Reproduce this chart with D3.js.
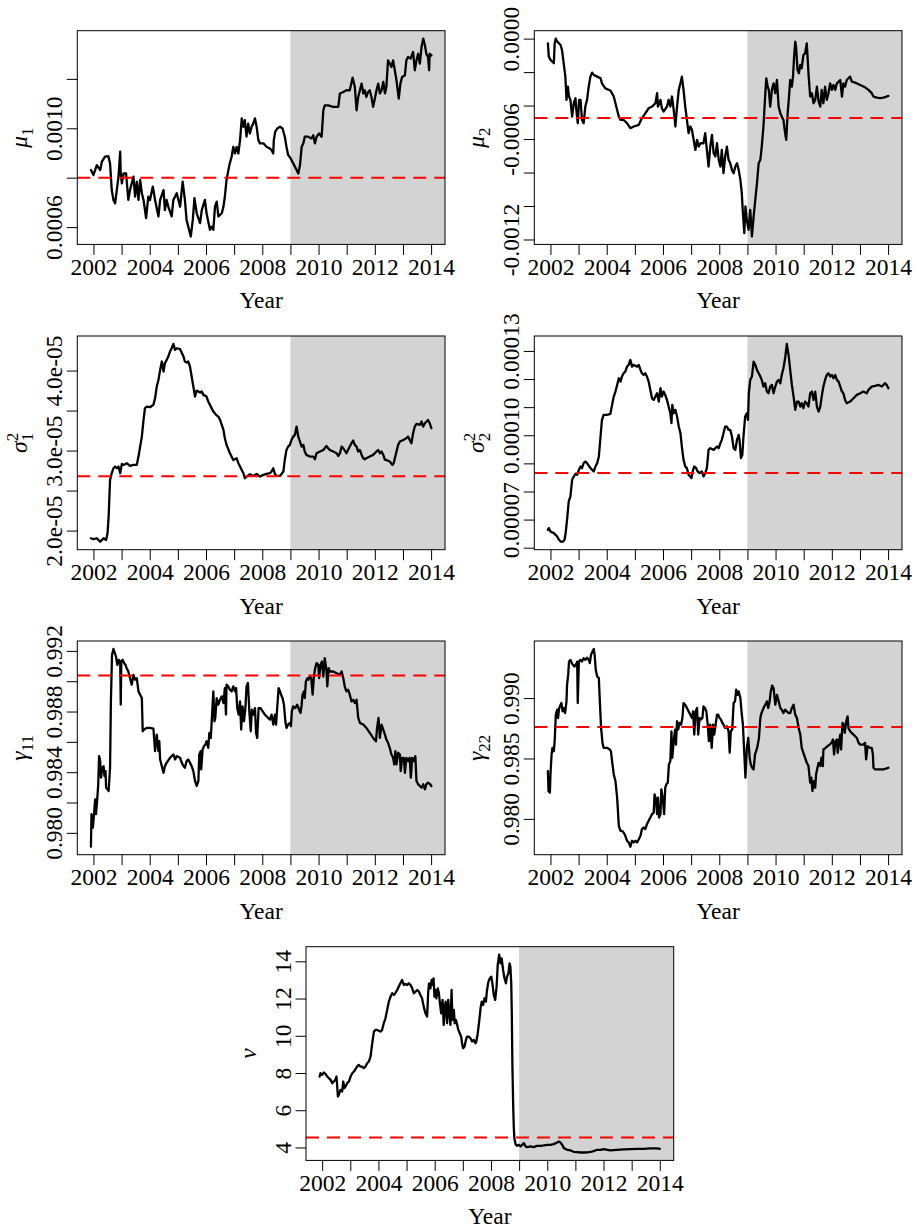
<!DOCTYPE html>
<html>
<head>
<meta charset="utf-8">
<script src="https://cdn.jsdelivr.net/npm/d3@7"></script>
<style>
  body { margin: 0; background: #fff; }
  svg text { font-family: "Liberation Serif", "Times New Roman", serif; fill: #000; }
</style>
</head>
<body>
<svg id="chart" width="914" height="1230"></svg>
<script>
// Rolling-window parameter estimates, [year, estimate] pairs.
const mu1 = [[2001.91,0.000831],[2002.00,0.000811],[2002.12,0.000851],[2002.24,0.000831],[2002.30,0.000865],[2002.41,0.000885],[2002.53,0.000887],[2002.59,0.000858],[2002.65,0.000750],[2002.71,0.000710],[2002.77,0.000696],[2002.83,0.000750],[2002.89,0.000804],[2002.95,0.000905],[2002.97,0.000817],[2003.01,0.000777],[2003.07,0.000817],[2003.16,0.000817],[2003.24,0.000710],[2003.30,0.000750],[2003.42,0.000804],[2003.48,0.000723],[2003.54,0.000784],[2003.60,0.000710],[2003.66,0.000791],[2003.72,0.000737],[2003.78,0.000710],[2003.87,0.000636],[2003.95,0.000723],[2004.01,0.000710],[2004.11,0.000764],[2004.19,0.000710],[2004.31,0.000643],[2004.37,0.000710],[2004.49,0.000750],[2004.54,0.000669],[2004.60,0.000710],[2004.66,0.000683],[2004.78,0.000643],[2004.84,0.000710],[2004.96,0.000737],[2005.08,0.000683],[2005.17,0.000784],[2005.25,0.000710],[2005.31,0.000629],[2005.37,0.000602],[2005.46,0.000562],[2005.53,0.000629],[2005.59,0.000717],[2005.67,0.000656],[2005.79,0.000616],[2005.85,0.000669],[2005.96,0.000710],[2006.02,0.000656],[2006.14,0.000589],[2006.20,0.000602],[2006.26,0.000589],[2006.32,0.000683],[2006.38,0.000703],[2006.44,0.000643],[2006.56,0.000656],[2006.62,0.000683],[2006.67,0.000723],[2006.73,0.000791],[2006.83,0.000851],[2006.91,0.000885],[2006.97,0.000925],[2007.03,0.000898],[2007.09,0.000925],[2007.15,0.000898],[2007.21,0.000952],[2007.27,0.001040],[2007.33,0.001006],[2007.38,0.001033],[2007.44,0.000966],[2007.50,0.001019],[2007.56,0.000979],[2007.62,0.001006],[2007.68,0.001019],[2007.74,0.001040],[2007.80,0.001006],[2007.86,0.000952],[2007.92,0.000939],[2008.04,0.000939],[2008.15,0.000925],[2008.27,0.000918],[2008.33,0.000912],[2008.39,0.000898],[2008.41,0.000952],[2008.46,0.000986],[2008.53,0.000999],[2008.63,0.001006],[2008.72,0.000999],[2008.80,0.000966],[2008.86,0.000925],[2008.92,0.000892],[2009.01,0.000878],[2009.10,0.000858],[2009.22,0.000831],[2009.28,0.000817],[2009.34,0.000851],[2009.40,0.000925],[2009.46,0.000939],[2009.51,0.000966],[2009.63,0.000966],[2009.75,0.000959],[2009.81,0.000972],[2009.87,0.000939],[2009.93,0.000966],[2010.02,0.000979],[2010.11,0.000966],[2010.17,0.001073],[2010.22,0.001093],[2010.34,0.001093],[2010.52,0.001087],[2010.70,0.001087],[2010.76,0.001141],[2010.88,0.001147],[2010.99,0.001154],[2011.11,0.001154],[2011.21,0.001205],[2011.29,0.001167],[2011.35,0.001073],[2011.41,0.001127],[2011.47,0.001154],[2011.53,0.001181],[2011.59,0.001141],[2011.64,0.001154],[2011.70,0.001127],[2011.76,0.001147],[2011.82,0.001154],[2011.88,0.001127],[2011.94,0.001087],[2012.00,0.001120],[2012.06,0.001154],[2012.12,0.001181],[2012.18,0.001141],[2012.24,0.001154],[2012.30,0.001188],[2012.36,0.001141],[2012.41,0.001167],[2012.47,0.001275],[2012.53,0.001262],[2012.59,0.001248],[2012.65,0.001275],[2012.71,0.001235],[2012.77,0.001194],[2012.85,0.001120],[2012.91,0.001181],[2012.97,0.001208],[2013.07,0.001215],[2013.12,0.001275],[2013.18,0.001289],[2013.27,0.001282],[2013.36,0.001309],[2013.42,0.001235],[2013.48,0.001275],[2013.54,0.001302],[2013.60,0.001262],[2013.66,0.001329],[2013.72,0.001363],[2013.78,0.001336],[2013.83,0.001302],[2013.89,0.001289],[2013.93,0.001235],[2013.95,0.001302],[2014.01,0.001295]];

const mu2 = [[2001.91,-0.000028],[2001.94,-0.000107],[2002.00,-0.000127],[2002.06,-0.000137],[2002.12,-0.000147],[2002.15,-0.000028],[2002.19,0.0],[2002.24,-0.000018],[2002.30,-0.000028],[2002.36,-0.000038],[2002.41,-0.000068],[2002.47,-0.000147],[2002.53,-0.000227],[2002.57,-0.000366],[2002.62,-0.000287],[2002.66,-0.000346],[2002.71,-0.000366],[2002.77,-0.000466],[2002.83,-0.000386],[2002.89,-0.000356],[2002.92,-0.000426],[2002.97,-0.000505],[2003.02,-0.000366],[2003.07,-0.000366],[2003.12,-0.000486],[2003.18,-0.000505],[2003.24,-0.000406],[2003.30,-0.000366],[2003.36,-0.000287],[2003.42,-0.000227],[2003.48,-0.000203],[2003.54,-0.000217],[2003.66,-0.000227],[2003.78,-0.000237],[2003.83,-0.000267],[2003.95,-0.000297],[2004.13,-0.000310],[2004.25,-0.000346],[2004.31,-0.000386],[2004.37,-0.000426],[2004.43,-0.000466],[2004.49,-0.000486],[2004.60,-0.000486],[2004.72,-0.000505],[2004.84,-0.000535],[2004.96,-0.000525],[2005.14,-0.000515],[2005.25,-0.000476],[2005.37,-0.000446],[2005.49,-0.000416],[2005.61,-0.000406],[2005.73,-0.000386],[2005.79,-0.000326],[2005.82,-0.000406],[2005.91,-0.000366],[2005.96,-0.000416],[2006.02,-0.000436],[2006.14,-0.000406],[2006.20,-0.000366],[2006.26,-0.000406],[2006.32,-0.000346],[2006.38,-0.000426],[2006.44,-0.000525],[2006.50,-0.000406],[2006.56,-0.000306],[2006.62,-0.000267],[2006.67,-0.000227],[2006.73,-0.000306],[2006.79,-0.000406],[2006.85,-0.000486],[2006.91,-0.000565],[2006.97,-0.000525],[2007.03,-0.000545],[2007.09,-0.000605],[2007.15,-0.000665],[2007.21,-0.000605],[2007.27,-0.000645],[2007.33,-0.000625],[2007.44,-0.000625],[2007.50,-0.000565],[2007.56,-0.000665],[2007.62,-0.000764],[2007.68,-0.000645],[2007.74,-0.000575],[2007.80,-0.000685],[2007.86,-0.000704],[2007.92,-0.000625],[2007.98,-0.000724],[2008.04,-0.000764],[2008.09,-0.000665],[2008.15,-0.000804],[2008.21,-0.000704],[2008.27,-0.000645],[2008.33,-0.000724],[2008.39,-0.000744],[2008.45,-0.000784],[2008.51,-0.000804],[2008.57,-0.000764],[2008.63,-0.000744],[2008.69,-0.000784],[2008.75,-0.000844],[2008.80,-0.000923],[2008.84,-0.001043],[2008.89,-0.001162],[2008.93,-0.001003],[2008.98,-0.001083],[2009.04,-0.001142],[2009.10,-0.001023],[2009.16,-0.001182],[2009.22,-0.001063],[2009.28,-0.000963],[2009.34,-0.000864],[2009.40,-0.000744],[2009.46,-0.000724],[2009.51,-0.000645],[2009.57,-0.000525],[2009.63,-0.000346],[2009.67,-0.000237],[2009.72,-0.000287],[2009.76,-0.000306],[2009.81,-0.000406],[2009.87,-0.000306],[2009.93,-0.000267],[2009.99,-0.000326],[2010.05,-0.000247],[2010.11,-0.000406],[2010.17,-0.000446],[2010.22,-0.000466],[2010.28,-0.000486],[2010.34,-0.000565],[2010.38,-0.000605],[2010.43,-0.000446],[2010.47,-0.000366],[2010.52,-0.000247],[2010.58,-0.000287],[2010.62,-0.000227],[2010.66,-0.000107],[2010.70,-0.000018],[2010.73,-0.000048],[2010.78,-0.000187],[2010.83,-0.000207],[2010.88,-0.000157],[2010.93,-0.000177],[2010.99,-0.000098],[2011.05,-0.000088],[2011.11,-0.000028],[2011.17,-0.000207],[2011.23,-0.000346],[2011.29,-0.000326],[2011.35,-0.000386],[2011.41,-0.000366],[2011.47,-0.000287],[2011.53,-0.000376],[2011.59,-0.000406],[2011.64,-0.000306],[2011.70,-0.000386],[2011.76,-0.000287],[2011.82,-0.000366],[2011.88,-0.000326],[2011.94,-0.000267],[2012.00,-0.000306],[2012.06,-0.000277],[2012.12,-0.000306],[2012.18,-0.000267],[2012.24,-0.000257],[2012.30,-0.000247],[2012.36,-0.000346],[2012.41,-0.000267],[2012.47,-0.000287],[2012.53,-0.000247],[2012.59,-0.000237],[2012.65,-0.000227],[2012.71,-0.000257],[2012.83,-0.000263],[2013.01,-0.000277],[2013.18,-0.000291],[2013.30,-0.000306],[2013.42,-0.000326],[2013.48,-0.000346],[2013.60,-0.000352],[2013.72,-0.000356],[2013.83,-0.000352],[2013.95,-0.000346],[2014.01,-0.000342]];

const sigma1sq = [[2001.91,1.904e-5],[2002.00,1.892e-5],[2002.12,1.904e-5],[2002.24,1.86e-5],[2002.36,1.904e-5],[2002.45,1.883e-5],[2002.50,1.967e-5],[2002.54,2.175e-5],[2002.59,2.633e-5],[2002.65,2.717e-5],[2002.71,2.779e-5],[2002.77,2.8e-5],[2002.83,2.779e-5],[2002.89,2.8e-5],[2002.95,2.717e-5],[2003.01,2.833e-5],[2003.07,2.821e-5],[2003.18,2.842e-5],[2003.30,2.808e-5],[2003.42,2.821e-5],[2003.54,2.821e-5],[2003.60,2.925e-5],[2003.66,3.05e-5],[2003.72,3.175e-5],[2003.78,3.383e-5],[2003.83,3.529e-5],[2003.89,3.55e-5],[2004.01,3.542e-5],[2004.13,3.571e-5],[2004.19,3.654e-5],[2004.25,3.8e-5],[2004.31,3.883e-5],[2004.37,4.008e-5],[2004.43,4.113e-5],[2004.49,3.988e-5],[2004.54,4.092e-5],[2004.60,4.133e-5],[2004.66,4.175e-5],[2004.72,4.238e-5],[2004.78,4.279e-5],[2004.84,4.333e-5],[2004.90,4.258e-5],[2004.96,4.279e-5],[2005.08,4.267e-5],[2005.20,4.175e-5],[2005.25,4.113e-5],[2005.31,4.1e-5],[2005.37,4.113e-5],[2005.43,4.05e-5],[2005.49,3.925e-5],[2005.55,3.8e-5],[2005.61,3.675e-5],[2005.67,3.75e-5],[2005.79,3.725e-5],[2005.85,3.738e-5],[2005.91,3.696e-5],[2006.02,3.675e-5],[2006.08,3.613e-5],[2006.14,3.571e-5],[2006.26,3.488e-5],[2006.36,3.446e-5],[2006.44,3.425e-5],[2006.50,3.383e-5],[2006.62,3.258e-5],[2006.67,3.154e-5],[2006.73,3.071e-5],[2006.85,2.967e-5],[2006.97,2.883e-5],[2007.09,2.904e-5],[2007.15,2.842e-5],[2007.21,2.8e-5],[2007.27,2.758e-5],[2007.33,2.717e-5],[2007.38,2.654e-5],[2007.44,2.675e-5],[2007.56,2.704e-5],[2007.68,2.683e-5],[2007.80,2.708e-5],[2007.92,2.675e-5],[2008.04,2.696e-5],[2008.15,2.708e-5],[2008.27,2.717e-5],[2008.33,2.738e-5],[2008.39,2.779e-5],[2008.45,2.708e-5],[2008.51,2.683e-5],[2008.63,2.683e-5],[2008.75,2.738e-5],[2008.80,2.883e-5],[2008.86,3.008e-5],[2008.92,3.05e-5],[2008.98,3.071e-5],[2009.04,3.133e-5],[2009.10,3.175e-5],[2009.16,3.196e-5],[2009.22,3.3e-5],[2009.28,3.175e-5],[2009.34,3.113e-5],[2009.40,3.05e-5],[2009.46,3.071e-5],[2009.51,2.988e-5],[2009.57,2.946e-5],[2009.69,2.925e-5],[2009.81,2.925e-5],[2009.87,2.892e-5],[2009.93,2.967e-5],[2010.05,2.988e-5],[2010.17,3.008e-5],[2010.28,3.058e-5],[2010.34,3.029e-5],[2010.40,3.008e-5],[2010.52,2.988e-5],[2010.64,2.967e-5],[2010.70,2.933e-5],[2010.76,2.967e-5],[2010.82,3.05e-5],[2010.88,3.029e-5],[2010.99,2.967e-5],[2011.11,3.05e-5],[2011.17,3.092e-5],[2011.23,3.125e-5],[2011.29,3.071e-5],[2011.35,3.05e-5],[2011.41,2.988e-5],[2011.47,3.008e-5],[2011.53,2.946e-5],[2011.59,2.904e-5],[2011.64,2.892e-5],[2011.70,2.904e-5],[2011.82,2.925e-5],[2011.94,2.946e-5],[2012.06,2.988e-5],[2012.12,3.008e-5],[2012.18,2.967e-5],[2012.24,2.988e-5],[2012.30,2.946e-5],[2012.36,2.883e-5],[2012.41,2.883e-5],[2012.53,2.863e-5],[2012.63,2.821e-5],[2012.67,2.842e-5],[2012.77,2.988e-5],[2012.83,3.071e-5],[2012.89,3.113e-5],[2013.01,3.133e-5],[2013.12,3.154e-5],[2013.18,3.175e-5],[2013.24,3.133e-5],[2013.30,3.092e-5],[2013.36,3.217e-5],[2013.42,3.3e-5],[2013.48,3.333e-5],[2013.60,3.321e-5],[2013.66,3.363e-5],[2013.72,3.3e-5],[2013.78,3.342e-5],[2013.89,3.383e-5],[2013.95,3.342e-5],[2014.01,3.279e-5]];

const sigma2sq = [[2001.91,6.637e-5],[2001.94,6.697e-5],[2002.00,6.578e-5],[2002.12,6.519e-5],[2002.24,6.4e-5],[2002.30,6.282e-5],[2002.38,6.21e-5],[2002.45,6.223e-5],[2002.50,6.282e-5],[2002.54,6.519e-5],[2002.59,6.993e-5],[2002.65,7.645e-5],[2002.71,7.822e-5],[2002.77,8.415e-5],[2002.83,8.533e-5],[2002.89,8.628e-5],[2002.95,8.592e-5],[2003.01,8.77e-5],[2003.07,8.889e-5],[2003.12,8.829e-5],[2003.18,9.007e-5],[2003.24,9.066e-5],[2003.30,9.007e-5],[2003.42,8.829e-5],[2003.54,8.711e-5],[2003.60,8.889e-5],[2003.66,9.007e-5],[2003.72,9.244e-5],[2003.78,9.955e-5],[2003.83,10.547e-5],[2003.89,10.725e-5],[2004.01,10.725e-5],[2004.13,10.761e-5],[2004.19,11.081e-5],[2004.25,11.377e-5],[2004.31,11.555e-5],[2004.37,11.791e-5],[2004.43,12.028e-5],[2004.49,11.91e-5],[2004.54,12.088e-5],[2004.60,12.206e-5],[2004.66,12.265e-5],[2004.72,12.443e-5],[2004.78,12.502e-5],[2004.84,12.68e-5],[2004.90,12.443e-5],[2004.96,12.502e-5],[2005.08,12.443e-5],[2005.14,12.502e-5],[2005.20,12.325e-5],[2005.25,12.206e-5],[2005.31,12.147e-5],[2005.37,12.206e-5],[2005.43,12.088e-5],[2005.49,11.91e-5],[2005.55,11.614e-5],[2005.61,11.318e-5],[2005.67,11.258e-5],[2005.73,11.377e-5],[2005.79,11.495e-5],[2005.85,11.199e-5],[2005.91,11.673e-5],[2005.96,11.377e-5],[2006.02,11.555e-5],[2006.08,11.436e-5],[2006.14,11.258e-5],[2006.20,11.021e-5],[2006.26,10.784e-5],[2006.30,10.429e-5],[2006.33,11.081e-5],[2006.38,10.784e-5],[2006.44,10.903e-5],[2006.50,10.666e-5],[2006.56,10.31e-5],[2006.62,10.073e-5],[2006.67,9.6e-5],[2006.73,9.126e-5],[2006.79,8.889e-5],[2006.85,8.829e-5],[2006.91,8.592e-5],[2006.97,8.533e-5],[2007.01,8.474e-5],[2007.07,8.77e-5],[2007.11,8.889e-5],[2007.18,8.829e-5],[2007.23,8.711e-5],[2007.30,8.652e-5],[2007.38,8.711e-5],[2007.44,8.533e-5],[2007.50,8.652e-5],[2007.56,8.829e-5],[2007.62,9.481e-5],[2007.68,9.54e-5],[2007.80,9.481e-5],[2007.92,9.6e-5],[2007.98,9.54e-5],[2008.04,9.718e-5],[2008.09,9.837e-5],[2008.15,10.073e-5],[2008.21,10.31e-5],[2008.27,10.31e-5],[2008.33,10.192e-5],[2008.39,10.192e-5],[2008.45,9.955e-5],[2008.51,9.54e-5],[2008.57,9.481e-5],[2008.63,9.837e-5],[2008.69,10.014e-5],[2008.72,9.837e-5],[2008.77,9.185e-5],[2008.82,9.303e-5],[2008.86,9.955e-5],[2008.92,10.666e-5],[2008.98,10.784e-5],[2009.02,10.547e-5],[2009.05,11.495e-5],[2009.10,11.969e-5],[2009.16,12.088e-5],[2009.22,12.621e-5],[2009.28,12.502e-5],[2009.34,12.325e-5],[2009.40,12.206e-5],[2009.46,12.088e-5],[2009.51,11.969e-5],[2009.57,11.732e-5],[2009.63,11.851e-5],[2009.69,11.555e-5],[2009.75,11.495e-5],[2009.81,11.732e-5],[2009.87,11.791e-5],[2009.93,11.495e-5],[2009.99,11.732e-5],[2010.05,11.91e-5],[2010.11,11.969e-5],[2010.17,11.851e-5],[2010.22,12.147e-5],[2010.28,12.384e-5],[2010.34,12.739e-5],[2010.40,13.25e-5],[2010.47,12.799e-5],[2010.52,12.325e-5],[2010.58,11.791e-5],[2010.64,11.377e-5],[2010.70,10.903e-5],[2010.76,11.199e-5],[2010.82,11.199e-5],[2010.88,11.021e-5],[2010.93,11.14e-5],[2010.99,10.962e-5],[2011.05,11.199e-5],[2011.11,11.14e-5],[2011.17,11.021e-5],[2011.23,11.495e-5],[2011.29,11.555e-5],[2011.35,11.258e-5],[2011.41,11.555e-5],[2011.47,11.021e-5],[2011.53,10.844e-5],[2011.59,11.021e-5],[2011.64,11.377e-5],[2011.70,11.732e-5],[2011.76,11.969e-5],[2011.82,12.147e-5],[2011.88,12.206e-5],[2011.94,12.088e-5],[2012.00,12.147e-5],[2012.06,12.028e-5],[2012.12,12.147e-5],[2012.18,11.969e-5],[2012.24,11.91e-5],[2012.30,11.732e-5],[2012.36,11.555e-5],[2012.41,11.495e-5],[2012.47,11.258e-5],[2012.53,11.14e-5],[2012.65,11.199e-5],[2012.77,11.318e-5],[2012.89,11.436e-5],[2013.01,11.495e-5],[2013.12,11.555e-5],[2013.24,11.495e-5],[2013.30,11.614e-5],[2013.42,11.732e-5],[2013.54,11.756e-5],[2013.66,11.791e-5],[2013.78,11.732e-5],[2013.89,11.851e-5],[2013.95,11.791e-5],[2014.01,11.673e-5]];

const gamma11 = [[2001.91,0.97908],[2001.93,0.98123],[2001.98,0.98035],[2002.02,0.98123],[2002.06,0.98221],[2002.09,0.98123],[2002.13,0.9821],[2002.17,0.9832],[2002.20,0.98506],[2002.24,0.98473],[2002.27,0.98364],[2002.31,0.98429],[2002.36,0.9844],[2002.39,0.98375],[2002.43,0.98407],[2002.45,0.98298],[2002.50,0.98287],[2002.54,0.98276],[2002.59,0.98429],[2002.62,0.98867],[2002.66,0.99174],[2002.71,0.99213],[2002.76,0.99185],[2002.80,0.99163],[2002.85,0.99108],[2002.90,0.99141],[2002.95,0.9913],[2002.97,0.98845],[2002.99,0.9913],[2003.04,0.99141],[2003.09,0.99119],[2003.14,0.99108],[2003.18,0.99086],[2003.24,0.99064],[2003.30,0.9902],[2003.36,0.98977],[2003.42,0.99042],[2003.48,0.9901],[2003.54,0.9902],[2003.60,0.98933],[2003.66,0.98911],[2003.72,0.98889],[2003.75,0.9867],[2003.80,0.98681],[2003.89,0.98692],[2004.01,0.98692],[2004.13,0.98688],[2004.19,0.98539],[2004.25,0.98648],[2004.31,0.98539],[2004.34,0.98604],[2004.37,0.98484],[2004.43,0.9844],[2004.49,0.98396],[2004.54,0.9844],[2004.60,0.98462],[2004.72,0.98495],[2004.84,0.98517],[2004.90,0.98484],[2004.96,0.98506],[2005.08,0.98495],[2005.14,0.98462],[2005.20,0.9844],[2005.25,0.98429],[2005.31,0.98473],[2005.37,0.98484],[2005.43,0.98462],[2005.49,0.9844],[2005.55,0.98407],[2005.61,0.98342],[2005.67,0.98309],[2005.73,0.98342],[2005.76,0.98517],[2005.81,0.98539],[2005.83,0.98418],[2005.88,0.9855],[2005.93,0.98572],[2005.98,0.98583],[2006.02,0.98604],[2006.08,0.98561],[2006.12,0.98659],[2006.17,0.98626],[2006.21,0.98758],[2006.26,0.98933],[2006.30,0.98736],[2006.33,0.98758],[2006.38,0.98889],[2006.44,0.98845],[2006.50,0.98878],[2006.56,0.989],[2006.62,0.98856],[2006.67,0.98955],[2006.71,0.9878],[2006.73,0.98977],[2006.79,0.98966],[2006.85,0.98944],[2006.91,0.98933],[2006.97,0.98966],[2007.03,0.98933],[2007.07,0.98955],[2007.11,0.98823],[2007.16,0.9878],[2007.21,0.98867],[2007.25,0.98681],[2007.30,0.98834],[2007.35,0.98736],[2007.40,0.98823],[2007.44,0.98966],[2007.49,0.98988],[2007.54,0.98802],[2007.59,0.9867],[2007.63,0.98812],[2007.68,0.9878],[2007.74,0.98823],[2007.78,0.98659],[2007.82,0.98626],[2007.87,0.98823],[2007.94,0.98823],[2008.01,0.98802],[2008.09,0.9878],[2008.15,0.98769],[2008.21,0.98758],[2008.27,0.98747],[2008.33,0.9878],[2008.39,0.98714],[2008.45,0.9878],[2008.49,0.98714],[2008.53,0.98823],[2008.58,0.98955],[2008.63,0.98933],[2008.69,0.989],[2008.72,0.98889],[2008.77,0.98845],[2008.82,0.98736],[2008.86,0.98692],[2008.92,0.98714],[2008.98,0.98725],[2009.02,0.98703],[2009.05,0.988],[2009.10,0.98834],[2009.17,0.98823],[2009.24,0.98845],[2009.31,0.98812],[2009.36,0.9879],[2009.40,0.98845],[2009.43,0.98911],[2009.48,0.98933],[2009.51,0.98889],[2009.55,0.98999],[2009.60,0.9902],[2009.64,0.9901],[2009.69,0.99031],[2009.74,0.9902],[2009.79,0.98911],[2009.83,0.9902],[2009.88,0.99086],[2009.93,0.99119],[2009.99,0.99108],[2010.02,0.9902],[2010.07,0.99108],[2010.12,0.9913],[2010.17,0.99031],[2010.22,0.99152],[2010.28,0.99075],[2010.31,0.98966],[2010.36,0.99086],[2010.40,0.99064],[2010.46,0.99064],[2010.52,0.99064],[2010.64,0.99053],[2010.76,0.99042],[2010.82,0.99064],[2010.88,0.9902],[2010.93,0.98966],[2010.99,0.98933],[2011.05,0.98944],[2011.11,0.98911],[2011.17,0.98867],[2011.23,0.98878],[2011.29,0.98856],[2011.35,0.98878],[2011.41,0.98758],[2011.47,0.98725],[2011.59,0.98714],[2011.70,0.98692],[2011.82,0.98659],[2011.94,0.98626],[2012.04,0.98604],[2012.08,0.98692],[2012.13,0.98758],[2012.18,0.98626],[2012.24,0.98714],[2012.30,0.98681],[2012.36,0.98648],[2012.41,0.98615],[2012.47,0.98594],[2012.53,0.98561],[2012.59,0.98517],[2012.65,0.98495],[2012.69,0.98451],[2012.73,0.98539],[2012.77,0.98451],[2012.83,0.98528],[2012.89,0.98517],[2012.92,0.98407],[2012.97,0.98495],[2013.03,0.98495],[2013.07,0.98396],[2013.12,0.98495],[2013.18,0.98473],[2013.24,0.98495],[2013.28,0.98364],[2013.33,0.98495],[2013.38,0.98473],[2013.44,0.98506],[2013.48,0.98342],[2013.54,0.9832],[2013.60,0.98309],[2013.66,0.98298],[2013.72,0.9832],[2013.78,0.98287],[2013.83,0.9832],[2013.89,0.98331],[2013.95,0.98324],[2014.01,0.98309]];

const gamma22 = [[2001.91,0.98396],[2001.93,0.98231],[2001.98,0.98217],[2002.00,0.98368],[2002.04,0.98533],[2002.07,0.98588],[2002.12,0.9856],[2002.15,0.98643],[2002.19,0.98863],[2002.24,0.98904],[2002.27,0.98835],[2002.31,0.98918],[2002.36,0.98945],[2002.39,0.98959],[2002.43,0.9889],[2002.47,0.98918],[2002.52,0.98876],[2002.57,0.98973],[2002.59,0.9911],[2002.63,0.99192],[2002.66,0.99302],[2002.71,0.99316],[2002.76,0.99289],[2002.80,0.99275],[2002.85,0.99261],[2002.90,0.99275],[2002.95,0.99302],[2002.97,0.98959],[2003.01,0.99302],[2003.07,0.99316],[2003.12,0.99302],[2003.18,0.9933],[2003.24,0.99316],[2003.30,0.99335],[2003.36,0.99316],[2003.40,0.99289],[2003.44,0.99357],[2003.49,0.99385],[2003.54,0.99407],[2003.57,0.99357],[2003.61,0.99234],[2003.66,0.99179],[2003.72,0.99165],[2003.75,0.99],[2003.80,0.98753],[2003.85,0.98629],[2003.89,0.98588],[2004.01,0.98588],[2004.11,0.98574],[2004.15,0.9856],[2004.19,0.98478],[2004.25,0.98368],[2004.31,0.98313],[2004.37,0.98176],[2004.43,0.97942],[2004.49,0.97901],[2004.54,0.97901],[2004.60,0.97887],[2004.66,0.9786],[2004.72,0.97819],[2004.78,0.97805],[2004.84,0.97769],[2004.90,0.97819],[2004.96,0.97805],[2005.02,0.97819],[2005.08,0.97805],[2005.14,0.97832],[2005.20,0.9786],[2005.25,0.97915],[2005.31,0.97929],[2005.37,0.97915],[2005.43,0.97956],[2005.49,0.97984],[2005.55,0.98011],[2005.61,0.98039],[2005.67,0.98052],[2005.70,0.98203],[2005.75,0.98162],[2005.79,0.98039],[2005.82,0.98176],[2005.86,0.98011],[2005.91,0.98039],[2005.94,0.98245],[2005.99,0.98176],[2006.04,0.98039],[2006.08,0.98258],[2006.12,0.98286],[2006.17,0.983],[2006.21,0.98451],[2006.26,0.98478],[2006.30,0.98725],[2006.33,0.98506],[2006.38,0.98643],[2006.43,0.98739],[2006.46,0.98615],[2006.50,0.98808],[2006.54,0.98739],[2006.59,0.98794],[2006.64,0.9878],[2006.69,0.98835],[2006.73,0.98959],[2006.79,0.98945],[2006.85,0.98918],[2006.91,0.9889],[2006.97,0.98863],[2007.03,0.98835],[2007.07,0.9889],[2007.11,0.98698],[2007.16,0.9889],[2007.21,0.98918],[2007.25,0.98698],[2007.30,0.98835],[2007.35,0.98822],[2007.40,0.98835],[2007.44,0.98931],[2007.49,0.98918],[2007.54,0.9889],[2007.59,0.9878],[2007.63,0.98643],[2007.68,0.9878],[2007.73,0.98588],[2007.78,0.9878],[2007.82,0.98698],[2007.87,0.9878],[2007.92,0.98863],[2007.96,0.98863],[2008.01,0.98835],[2008.06,0.98822],[2008.11,0.98794],[2008.15,0.9878],[2008.21,0.98753],[2008.27,0.98767],[2008.33,0.98725],[2008.37,0.98547],[2008.41,0.98725],[2008.46,0.98739],[2008.51,0.98959],[2008.56,0.98973],[2008.60,0.99069],[2008.65,0.99027],[2008.69,0.99055],[2008.75,0.99],[2008.79,0.9889],[2008.84,0.9878],[2008.89,0.98533],[2008.93,0.98341],[2008.98,0.98588],[2009.03,0.9867],[2009.08,0.98505],[2009.12,0.9845],[2009.17,0.98423],[2009.22,0.98409],[2009.27,0.98533],[2009.31,0.9856],[2009.36,0.98602],[2009.41,0.9867],[2009.46,0.98835],[2009.50,0.98876],[2009.55,0.98904],[2009.60,0.98931],[2009.64,0.98945],[2009.69,0.98973],[2009.74,0.98918],[2009.79,0.98973],[2009.83,0.99055],[2009.88,0.99104],[2009.93,0.99082],[2009.99,0.98945],[2010.05,0.99027],[2010.11,0.98973],[2010.17,0.98918],[2010.22,0.98904],[2010.28,0.98876],[2010.34,0.98904],[2010.40,0.9889],[2010.46,0.98876],[2010.52,0.98876],[2010.58,0.98918],[2010.64,0.98945],[2010.70,0.98863],[2010.76,0.98835],[2010.82,0.98753],[2010.88,0.98698],[2010.93,0.98588],[2010.99,0.98547],[2011.05,0.98506],[2011.11,0.98464],[2011.17,0.98437],[2011.23,0.983],[2011.27,0.98341],[2011.31,0.98231],[2011.36,0.98313],[2011.41,0.98258],[2011.44,0.98368],[2011.49,0.98423],[2011.53,0.98464],[2011.59,0.98437],[2011.63,0.98506],[2011.68,0.98437],[2011.70,0.98574],[2011.78,0.98588],[2011.85,0.98602],[2011.92,0.98615],[2011.99,0.98629],[2012.04,0.98657],[2012.08,0.98533],[2012.13,0.98643],[2012.18,0.98657],[2012.21,0.98547],[2012.26,0.98643],[2012.30,0.98698],[2012.33,0.98574],[2012.38,0.98794],[2012.43,0.9878],[2012.46,0.98712],[2012.51,0.98808],[2012.56,0.98849],[2012.59,0.98753],[2012.65,0.98725],[2012.77,0.98698],[2012.89,0.9867],[2012.95,0.98629],[2013.01,0.98615],[2013.12,0.98615],[2013.18,0.98629],[2013.22,0.98492],[2013.27,0.98602],[2013.36,0.98588],[2013.42,0.98588],[2013.46,0.98533],[2013.48,0.98423],[2013.54,0.98409],[2013.66,0.98409],[2013.83,0.98409],[2013.95,0.98418],[2014.01,0.98423]];

const nu = [[2001.91,7.81],[2001.94,7.989],[2002.00,7.9],[2002.06,8.025],[2002.12,7.953],[2002.18,7.81],[2002.24,7.721],[2002.30,7.631],[2002.36,7.453],[2002.41,7.542],[2002.47,7.631],[2002.51,7.81],[2002.56,6.737],[2002.59,6.826],[2002.65,7.095],[2002.71,7.005],[2002.75,7.542],[2002.79,7.184],[2002.83,7.274],[2002.89,7.453],[2002.95,7.542],[2003.01,7.81],[2003.07,7.989],[2003.13,8.079],[2003.24,8.347],[2003.30,8.436],[2003.36,8.347],[2003.42,8.347],[2003.48,8.258],[2003.54,8.347],[2003.60,8.526],[2003.66,8.615],[2003.72,8.884],[2003.78,9.599],[2003.84,10.225],[2003.90,10.315],[2003.95,10.315],[2004.07,10.225],[2004.13,10.315],[2004.19,10.673],[2004.25,10.941],[2004.31,11.388],[2004.37,11.835],[2004.43,12.104],[2004.49,12.283],[2004.55,12.193],[2004.61,12.318],[2004.67,12.462],[2004.72,12.641],[2004.78,12.819],[2004.84,12.998],[2004.90,12.73],[2004.96,12.784],[2005.02,12.73],[2005.08,12.819],[2005.14,12.73],[2005.20,12.551],[2005.26,12.283],[2005.32,12.372],[2005.38,12.462],[2005.44,12.372],[2005.49,12.193],[2005.55,12.014],[2005.61,11.567],[2005.67,11.209],[2005.73,11.03],[2005.77,12.372],[2005.80,12.819],[2005.85,12.551],[2005.89,12.998],[2005.92,12.73],[2005.96,13.088],[2005.99,12.104],[2006.03,12.462],[2006.06,12.014],[2006.11,12.551],[2006.15,12.283],[2006.18,11.835],[2006.23,11.209],[2006.28,11.925],[2006.32,10.583],[2006.36,11.567],[2006.39,11.835],[2006.44,10.673],[2006.48,11.925],[2006.51,11.388],[2006.56,10.583],[2006.60,12.462],[2006.63,10.852],[2006.68,11.388],[2006.71,10.673],[2006.75,10.852],[2006.80,10.583],[2006.84,10.315],[2006.89,10.136],[2006.94,9.957],[2006.98,9.51],[2007.01,9.331],[2007.06,9.42],[2007.11,9.778],[2007.15,9.957],[2007.21,9.957],[2007.27,9.868],[2007.33,9.689],[2007.39,9.778],[2007.45,9.599],[2007.48,9.689],[2007.53,10.136],[2007.58,10.762],[2007.63,11.478],[2007.67,11.835],[2007.72,11.657],[2007.77,12.014],[2007.82,11.835],[2007.86,12.462],[2007.91,12.909],[2007.96,13.088],[2008.01,13.177],[2008.05,12.819],[2008.10,12.193],[2008.15,11.925],[2008.20,12.641],[2008.24,13.803],[2008.29,14.36],[2008.34,13.893],[2008.38,14.161],[2008.43,13.535],[2008.48,13.088],[2008.53,12.819],[2008.57,13.177],[2008.62,13.356],[2008.66,13.893],[2008.69,13.714],[2008.72,12.819],[2008.74,11.209],[2008.76,8.526],[2008.79,6.2],[2008.81,5.127],[2008.83,4.501],[2008.88,4.143],[2008.93,4.089],[2008.99,4.143],[2009.05,4.054],[2009.11,4.143],[2009.17,4.233],[2009.23,4.054],[2009.29,4.018],[2009.40,4.054],[2009.52,4.018],[2009.64,4.089],[2009.76,4.089],[2009.88,4.107],[2010.00,4.143],[2010.11,4.143],[2010.23,4.179],[2010.35,4.268],[2010.41,4.322],[2010.47,4.268],[2010.53,4.143],[2010.59,3.964],[2010.71,3.875],[2010.83,3.839],[2010.94,3.767],[2011.06,3.75],[2011.18,3.73],[2011.30,3.73],[2011.42,3.74],[2011.54,3.767],[2011.65,3.803],[2011.77,3.875],[2011.89,3.875],[2012.01,3.911],[2012.13,3.875],[2012.25,3.839],[2012.36,3.857],[2012.48,3.875],[2012.72,3.893],[2012.96,3.911],[2013.19,3.928],[2013.43,3.928],[2013.67,3.946],[2013.90,3.946],[2014.00,3.928]];

// Full-sample estimates (dashed reference lines).
const refValues = [0.0008, -0.000474, 2.68e-5, 8.66e-5, 0.99038, 0.98761, 4.54];

// Start of the out-of-sample period (shaded).
const shadeStart = 2009;

// Axis ticks and tick labels ("" = tick without label).
const xTicks = [2002, 2003, 2004, 2005, 2006, 2007, 2008, 2009, 2010, 2011, 2012, 2013, 2014];
const xTickLabels = ["2002", "", "2004", "", "2006", "", "2008", "", "2010", "", "2012", "", "2014"];

const mu1Ticks = [0.0006, 0.0008, 0.0010, 0.0012];
const mu1Labels = ["0.0006", "", "0.0010", ""];
const mu2Ticks = [-0.0012, -0.0010, -0.0008, -0.0006, -0.0004, -0.0002, 0];
const mu2Labels = ["-0.0012", "", "", "-0.0006", "", "", "0.0000"];
const sigma1Ticks = [2.0e-5, 2.5e-5, 3.0e-5, 3.5e-5, 4.0e-5];
const sigma1Labels = ["2.0e-05", "", "3.0e-05", "", "4.0e-05"];
const sigma2Ticks = [6e-5, 7e-5, 8e-5, 9e-5, 10e-5, 11e-5, 12e-5, 13e-5];
const sigma2Labels = ["", "0.00007", "", "", "0.00010", "", "", "0.00013"];
const gamma11Ticks = [0.980, 0.982, 0.984, 0.986, 0.988, 0.990, 0.992];
const gamma11Labels = ["0.980", "", "0.984", "", "0.988", "", "0.992"];
const gamma22Ticks = [0.980, 0.985, 0.990];
const gamma22Labels = ["0.980", "0.985", "0.990"];
const nuTicks = [4, 6, 8, 10, 12, 14];
const nuLabels = ["4", "6", "8", "10", "12", "14"];

// ---- layout ----
const boxW = 367.7, boxH = 213.7;
const FONT = 23.5, SMALL = 17;

const panels = [
  { data: mu1, ref: refValues[0], ticks: mu1Ticks, labels: mu1Labels, left: 77.3, top: 30.7,
    title: [{ t: "μ", it: true }, { t: "1", sub: true }] },
  { data: mu2, ref: refValues[1], ticks: mu2Ticks, labels: mu2Labels, left: 534.3, top: 30.7,
    title: [{ t: "μ", it: true }, { t: "2", sub: true }] },
  { data: sigma1sq, ref: refValues[2], ticks: sigma1Ticks, labels: sigma1Labels, left: 77.3, top: 336,
    title: [{ t: "σ", it: true }, { t: "1", sub: true }, { t: "2", sup: true }] },
  { data: sigma2sq, ref: refValues[3], ticks: sigma2Ticks, labels: sigma2Labels, left: 534.3, top: 336,
    title: [{ t: "σ", it: true }, { t: "2", sub: true }, { t: "2", sup: true }] },
  { data: gamma11, ref: refValues[4], ticks: gamma11Ticks, labels: gamma11Labels, left: 77.3, top: 641,
    title: [{ t: "γ", it: true }, { t: "11", sub: true }] },
  { data: gamma22, ref: refValues[5], ticks: gamma22Ticks, labels: gamma22Labels, left: 534.3, top: 641,
    title: [{ t: "γ", it: true }, { t: "22", sub: true }] },
  { data: nu, ref: refValues[6], ticks: nuTicks, labels: nuLabels, left: 306, top: 946.7,
    title: [{ t: "ν", it: true }] }
];

const svg = d3.select("#chart");
svg.append("rect").attr("width", 914).attr("height", 1230).attr("fill", "#fff");

// Shared time axis: data range plus 4% on each side.
const allT = panels.flatMap(p => p.data.map(d => d[0]));
const [tMin, tMax] = d3.extent(allT);
const tPad = 0.04 * (tMax - tMin);
const xDomain = [tMin - tPad, tMax + tPad];

panels.forEach(p => {
  const g = svg.append("g");
  const x = d3.scaleLinear().domain(xDomain).range([p.left, p.left + boxW]);
  const [vMin, vMax] = d3.extent(p.data, d => d[1]);
  const vPad = 0.04 * (vMax - vMin);
  const y = d3.scaleLinear().domain([vMin - vPad, vMax + vPad]).range([p.top + boxH, p.top]);

  const clipId = "clip" + Math.round(p.left) + "_" + Math.round(p.top);
  g.append("clipPath").attr("id", clipId)
    .append("rect").attr("x", p.left).attr("y", p.top).attr("width", boxW).attr("height", boxH);

  // shaded out-of-sample period
  g.append("rect")
    .attr("x", x(shadeStart)).attr("y", p.top)
    .attr("width", p.left + boxW - x(shadeStart)).attr("height", boxH)
    .attr("fill", "#d3d3d3");

  // estimate path
  g.append("path")
    .datum(p.data)
    .attr("clip-path", `url(#${clipId})`)
    .attr("fill", "none")
    .attr("stroke", "#000")
    .attr("stroke-width", 2.3)
    .attr("stroke-linejoin", "round")
    .attr("stroke-linecap", "round")
    .attr("d", d3.line().x(d => x(d[0])).y(d => y(d[1])));

  // full-sample reference
  g.append("line")
    .attr("x1", p.left).attr("x2", p.left + boxW)
    .attr("y1", y(p.ref)).attr("y2", y(p.ref))
    .attr("stroke", "#ff0000").attr("stroke-width", 2)
    .attr("stroke-dasharray", "13,8");

  // frame
  g.append("rect")
    .attr("x", p.left).attr("y", p.top).attr("width", boxW).attr("height", boxH)
    .attr("fill", "none").attr("stroke", "#000").attr("stroke-width", 1);

  // x axis
  const xAxis = d3.axisBottom(x).tickValues(xTicks).tickSize(10.5).tickPadding(1)
    .tickFormat((d, i) => xTickLabels[i]);
  const xg = g.append("g").attr("transform", `translate(0,${p.top + boxH})`).call(xAxis);
  xg.select(".domain").remove();
  xg.selectAll(".tick line").attr("stroke", "#000");
  xg.selectAll(".tick text")
    .attr("font-size", FONT).attr("font-family", null)
    .attr("y", 30.7).attr("dy", null).attr("fill", "#000");

  // y axis
  const yAxis = d3.axisLeft(y).tickValues(p.ticks).tickSize(10.5)
    .tickFormat((d, i) => p.labels[i]);
  const yg = g.append("g").attr("transform", `translate(${p.left},0)`).call(yAxis);
  yg.select(".domain").remove();
  yg.selectAll(".tick line").attr("stroke", "#000");
  yg.selectAll(".tick text")
    .attr("font-size", FONT).attr("font-family", null).attr("fill", "#000")
    .attr("x", null).attr("dy", null)
    .attr("text-anchor", "middle")
    .attr("transform", "translate(-15,0) rotate(-90)");

  // x title
  g.append("text")
    .attr("x", p.left + boxW / 2).attr("y", p.top + boxH + 64)
    .attr("text-anchor", "middle").attr("font-size", FONT)
    .text("Year");

  // y title
  const tt = g.append("text")
    .attr("transform", `translate(${p.left - 50},${p.top + boxH / 2}) rotate(-90)`)
    .attr("text-anchor", "middle").attr("font-size", FONT);
  let prevSub = null;
  p.title.forEach(part => {
    const s = tt.append("tspan").text(part.t);
    if (part.it) s.attr("font-style", "italic");
    if (part.sub) {
      s.attr("font-size", SMALL).attr("dy", 6);
      prevSub = part.t;
    } else if (part.sup) {
      s.attr("font-size", SMALL);
      if (prevSub) s.attr("dx", -SMALL * 0.5 * prevSub.length).attr("dy", -15);
      else s.attr("dy", -9);
    }
  });
});
</script>
</body>
</html>
